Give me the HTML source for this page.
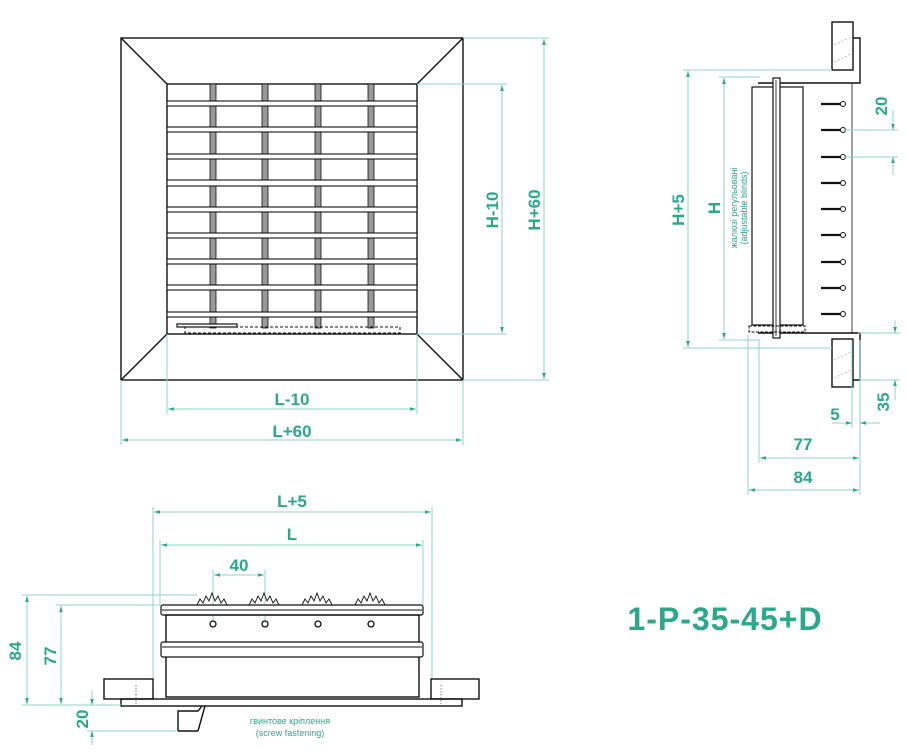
<!DOCTYPE html>
<html><head><meta charset="utf-8"><style>
html,body{margin:0;padding:0;background:#fff}
svg{display:block}
.t{fill:#2aa88a;font-family:"Liberation Sans",sans-serif;font-weight:bold}
.d{stroke:#8fd3c3;stroke-width:1;fill:none}
.k{stroke:#111;stroke-width:1.4;fill:none}
.kf{stroke:#111;stroke-width:1.2;fill:#fff}
</style></head><body>
<svg width="907" height="753" viewBox="0 0 907 753" xmlns="http://www.w3.org/2000/svg">
<defs>
<marker id="a" viewBox="0 0 10 10" refX="10" refY="5" markerWidth="8" markerHeight="6" orient="auto-start-reverse"><path d="M0,2 L10,5 L0,8z" fill="#2aa88a"/></marker>
</defs>

<!-- FRONT VIEW -->
<rect x="121" y="38" width="342" height="342" class="k"/>
<rect x="167" y="84" width="250" height="250" class="k"/>
<line x1="121" y1="38" x2="167" y2="84" class="k"/>
<line x1="463" y1="38" x2="417" y2="84" class="k"/>
<line x1="121" y1="380" x2="167" y2="334" class="k"/>
<line x1="463" y1="380" x2="417" y2="334" class="k"/>
<g fill="#999" stroke="#111" stroke-width="0.8">
<rect x="210" y="84" width="6" height="244"/><rect x="262" y="84" width="6" height="244"/>
<rect x="315" y="84" width="6" height="244"/><rect x="368" y="84" width="6" height="244"/>
</g>
<g fill="#fff" stroke="#111" stroke-width="1.1">
<rect x="167" y="101" width="250" height="5"/><rect x="167" y="127" width="250" height="5"/>
<rect x="167" y="154" width="250" height="5"/><rect x="167" y="180" width="250" height="6"/>
<rect x="167" y="207" width="250" height="5"/><rect x="167" y="233" width="250" height="5"/>
<rect x="167" y="259" width="250" height="5"/><rect x="167" y="285" width="250" height="5"/>
<rect x="167" y="312" width="250" height="5"/>
</g>
<rect x="177" y="324" width="60" height="3" class="kf"/>
<rect x="185" y="327" width="215" height="6" fill="none" stroke="#111" stroke-width="1" stroke-dasharray="3,2"/>
<!-- front dims -->
<line x1="167" y1="334" x2="167" y2="414" class="d"/><line x1="417" y1="334" x2="417" y2="414" class="d"/>
<line x1="121" y1="380" x2="121" y2="445" class="d"/><line x1="463" y1="380" x2="463" y2="445" class="d"/>
<line x1="168" y1="409" x2="416" y2="409" class="d" marker-start="url(#a)" marker-end="url(#a)"/>
<line x1="122" y1="440" x2="462" y2="440" class="d" marker-start="url(#a)" marker-end="url(#a)"/>
<text x="292" y="405" class="t" font-size="17" text-anchor="middle">L-10</text>
<text x="292" y="437" class="t" font-size="17" text-anchor="middle">L+60</text>
<line x1="417" y1="84" x2="507" y2="84" class="d"/><line x1="417" y1="334" x2="507" y2="334" class="d"/>
<line x1="463" y1="38" x2="549" y2="38" class="d"/><line x1="463" y1="380" x2="549" y2="380" class="d"/>
<line x1="502" y1="85" x2="502" y2="333" class="d" marker-start="url(#a)" marker-end="url(#a)"/>
<line x1="544" y1="39" x2="544" y2="379" class="d" marker-start="url(#a)" marker-end="url(#a)"/>
<text transform="translate(498,210) rotate(-90)" class="t" font-size="17" text-anchor="middle">H-10</text>
<text transform="translate(540,210) rotate(-90)" class="t" font-size="17" text-anchor="middle">H+60</text>

<!-- SIDE VIEW -->
<rect x="832" y="22" width="21" height="48" class="k"/>
<rect x="832" y="339" width="21" height="48" class="k"/>
<g stroke="#999" stroke-width="0.6" stroke-dasharray="2,2"><line x1="834" y1="45" x2="851" y2="37"/><line x1="834" y1="62" x2="851" y2="54"/><line x1="834" y1="360" x2="851" y2="352"/><line x1="834" y1="378" x2="851" y2="370"/></g>
<path d="M853,38 H860 V83 H758" class="k"/>
<path d="M853,380 H860 V333 H758" class="k"/>
<line x1="852" y1="83" x2="852" y2="333" stroke="#111" stroke-width="0.8"/>
<rect x="752" y="87" width="51" height="238" class="kf"/>
<rect x="773" y="78" width="7" height="260" class="kf"/>
<line x1="776" y1="80" x2="776" y2="336" stroke="#111" stroke-width="0.8"/>
<rect x="749" y="326" width="56" height="6" fill="none" stroke="#111" stroke-width="1" stroke-dasharray="3,1.5"/>
<g stroke="#111" stroke-width="2.2">
<line x1="821" y1="104" x2="842" y2="104"/><line x1="821" y1="130" x2="842" y2="130"/><line x1="821" y1="157" x2="842" y2="157"/>
<line x1="821" y1="183" x2="842" y2="183"/><line x1="821" y1="209" x2="842" y2="209"/><line x1="821" y1="235" x2="842" y2="235"/>
<line x1="821" y1="262" x2="842" y2="262"/><line x1="821" y1="288" x2="842" y2="288"/><line x1="821" y1="314" x2="842" y2="314"/>
</g>
<g fill="#fff" stroke="#111" stroke-width="1">
<circle cx="843" cy="104" r="2.5"/><circle cx="843" cy="130" r="2.5"/><circle cx="843" cy="157" r="2.5"/>
<circle cx="843" cy="183" r="2.5"/><circle cx="843" cy="209" r="2.5"/><circle cx="843" cy="235" r="2.5"/>
<circle cx="843" cy="262" r="2.5"/><circle cx="843" cy="288" r="2.5"/><circle cx="843" cy="314" r="2.5"/>
</g>
<!-- side dims -->
<line x1="683" y1="70" x2="832" y2="70" class="d"/><line x1="683" y1="348" x2="832" y2="348" class="d"/>
<line x1="719" y1="77" x2="760" y2="77" class="d"/><line x1="719" y1="340" x2="760" y2="340" class="d"/>
<line x1="688" y1="71" x2="688" y2="347" class="d" marker-start="url(#a)" marker-end="url(#a)"/>
<line x1="724" y1="78" x2="724" y2="339" class="d" marker-start="url(#a)" marker-end="url(#a)"/>
<text transform="translate(684,210) rotate(-90)" class="t" font-size="17" text-anchor="middle">H+5</text>
<text transform="translate(720,208) rotate(-90)" class="t" font-size="17" text-anchor="middle">H</text>
<text transform="translate(737,208) rotate(-90)" fill="#2aa88a" font-family="Liberation Sans,sans-serif" font-size="9" text-anchor="middle">жалюзі регульовані</text>
<text transform="translate(747,208) rotate(-90)" fill="#2aa88a" font-family="Liberation Sans,sans-serif" font-size="9" text-anchor="middle">(adjustable blinds)</text>
<line x1="843" y1="130" x2="898" y2="130" class="d"/><line x1="843" y1="157" x2="898" y2="157" class="d"/>
<line x1="893" y1="110" x2="893" y2="130" class="d" marker-end="url(#a)"/><line x1="893" y1="175" x2="893" y2="157" class="d" marker-end="url(#a)"/>
<text transform="translate(887,106) rotate(-90)" class="t" font-size="17" text-anchor="middle">20</text>
<line x1="858" y1="333" x2="900" y2="333" class="d"/><line x1="860" y1="380" x2="900" y2="380" class="d"/>
<line x1="895" y1="320" x2="895" y2="333" class="d" marker-end="url(#a)"/><line x1="895" y1="400" x2="895" y2="380" class="d" marker-end="url(#a)"/>
<text transform="translate(889,402) rotate(-90)" class="t" font-size="17" text-anchor="middle">35</text>
<line x1="852" y1="340" x2="852" y2="428" class="d"/><line x1="860" y1="340" x2="860" y2="495" class="d"/>
<line x1="759" y1="340" x2="759" y2="463" class="d"/><line x1="748" y1="335" x2="748" y2="495" class="d"/>
<line x1="832" y1="423" x2="852" y2="423" class="d" marker-end="url(#a)"/><line x1="880" y1="423" x2="860" y2="423" class="d" marker-end="url(#a)"/>
<text x="835" y="420" class="t" font-size="17" text-anchor="middle">5</text>
<line x1="760" y1="458" x2="859" y2="458" class="d" marker-start="url(#a)" marker-end="url(#a)"/>
<line x1="749" y1="490" x2="859" y2="490" class="d" marker-start="url(#a)" marker-end="url(#a)"/>
<text x="803" y="450" class="t" font-size="17" text-anchor="middle">77</text>
<text x="803" y="483" class="t" font-size="17" text-anchor="middle">84</text>

<!-- BOTTOM VIEW -->
<line x1="153" y1="507" x2="153" y2="679" class="d"/><line x1="432" y1="507" x2="432" y2="679" class="d"/>
<line x1="160" y1="540" x2="160" y2="605" class="d"/><line x1="423" y1="540" x2="423" y2="605" class="d"/>
<line x1="154" y1="512" x2="431" y2="512" class="d" marker-start="url(#a)" marker-end="url(#a)"/>
<line x1="161" y1="545" x2="422" y2="545" class="d" marker-start="url(#a)" marker-end="url(#a)"/>
<text x="292" y="507" class="t" font-size="17" text-anchor="middle">L+5</text>
<text x="292" y="540" class="t" font-size="17" text-anchor="middle">L</text>
<line x1="213" y1="570" x2="213" y2="624" class="d"/><line x1="265" y1="570" x2="265" y2="624" class="d"/>
<line x1="214" y1="575" x2="264" y2="575" class="d" marker-start="url(#a)" marker-end="url(#a)"/>
<text x="239" y="571" class="t" font-size="17" text-anchor="middle">40</text>
<g stroke="#111" stroke-width="0.9" fill="none">
<path d="M197,605 l3,-6 3,4 3,-7 3,5 3,-8 3,8 3,-5 3,7 3,-4 3,6"/>
<path d="M249,605 l3,-6 3,4 3,-7 3,5 3,-8 3,8 3,-5 3,7 3,-4 3,6"/>
<path d="M302,605 l3,-6 3,4 3,-7 3,5 3,-8 3,8 3,-5 3,7 3,-4 3,6"/>
<path d="M355,605 l3,-6 3,4 3,-7 3,5 3,-8 3,8 3,-5 3,7 3,-4 3,6"/>
</g>
<rect x="161" y="605" width="262" height="10" rx="2" class="kf" stroke-width="1.6"/>
<line x1="162" y1="610" x2="422" y2="610" stroke="#111"/>
<rect x="166" y="615" width="253" height="82" class="k"/>
<rect x="161" y="642" width="262" height="15" rx="2" class="kf" stroke-width="1.6"/>
<line x1="162" y1="647" x2="422" y2="647" stroke="#111"/>
<g fill="#fff" stroke="#111" stroke-width="1.3">
<circle cx="213" cy="624" r="3"/><circle cx="265" cy="624" r="3"/><circle cx="318" cy="624" r="3"/><circle cx="371" cy="624" r="3"/>
</g>
<rect x="104" y="679" width="49" height="20" class="k"/>
<rect x="431" y="679" width="48" height="20" class="k"/>
<g stroke="#aaa" stroke-width="1.5" stroke-dasharray="1.5,1.5"><line x1="136" y1="685" x2="136" y2="704"/><line x1="441" y1="685" x2="441" y2="704"/></g>
<rect x="121" y="699" width="341" height="7" class="k"/>
<path d="M178,731 V711 H198 L202,706 M198,731 L205,706 M178,731 H198" class="k"/>
<text x="290" y="724" fill="#2aa88a" font-family="Liberation Sans,sans-serif" font-size="9" text-anchor="middle">гвинтове кріплення</text>
<text x="290" y="736" fill="#2aa88a" font-family="Liberation Sans,sans-serif" font-size="9" text-anchor="middle">(screw fastening)</text>
<line x1="22" y1="595" x2="197" y2="595" class="d"/><line x1="56" y1="605" x2="161" y2="605" class="d"/>
<line x1="22" y1="705" x2="121" y2="705" class="d"/><line x1="87" y1="731" x2="178" y2="731" class="d"/>
<line x1="27" y1="596" x2="27" y2="704" class="d" marker-start="url(#a)" marker-end="url(#a)"/>
<line x1="61" y1="606" x2="61" y2="704" class="d" marker-start="url(#a)" marker-end="url(#a)"/>
<line x1="92" y1="690" x2="92" y2="705" class="d" marker-end="url(#a)"/><line x1="92" y1="745" x2="92" y2="731" class="d" marker-end="url(#a)"/>
<text transform="translate(21,651) rotate(-90)" class="t" font-size="17" text-anchor="middle">84</text>
<text transform="translate(56,656) rotate(-90)" class="t" font-size="17" text-anchor="middle">77</text>
<text transform="translate(88,719) rotate(-90)" class="t" font-size="17" text-anchor="middle">20</text>

<text x="725" y="630" class="t" font-size="32" text-anchor="middle" letter-spacing="1">1-P-35-45+D</text>
</svg>
</body></html>
